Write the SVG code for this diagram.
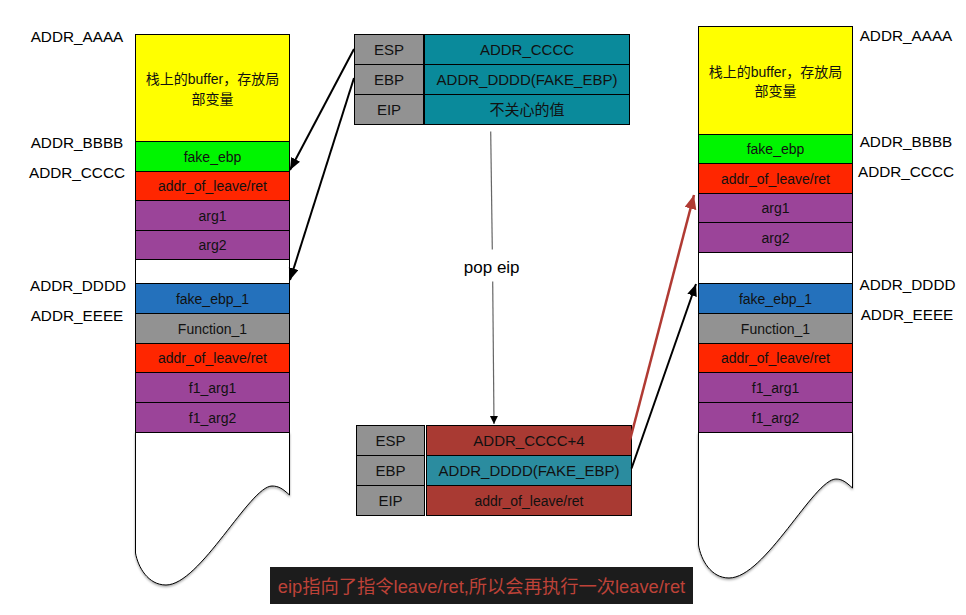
<svg xmlns="http://www.w3.org/2000/svg" width="966" height="615" viewBox="0 0 966 615">
  <style>
    .c { stroke:#000; stroke-width:1; }
    .t { font-family:"Liberation Sans","Noto Sans CJK SC",sans-serif; font-size:14px; text-anchor:middle; fill:#111; }
    .r { font-family:"Liberation Sans","Noto Sans CJK SC",sans-serif; font-size:15px; text-anchor:middle; fill:#111; }
    .lbl { font-family:"Liberation Sans",sans-serif; font-size:15.3px; text-anchor:middle; fill:#000; }
    .yel { fill:#FFFF00; } .grn { fill:#00F500; } .red { fill:#FF2600; } .pur { fill:#9B4499; }
    .wht { fill:#FFFFFF; } .blu { fill:#2471BC; } .gry { fill:#929292; }
    .teal { fill:#0A8A9B; } .teal2 { fill:#2B8C9F; } .brn { fill:#A93A33; }
    .ln { fill:none; stroke:#000; stroke-width:2; }
  </style>
  <defs>
    <marker id="ab" markerUnits="userSpaceOnUse" markerWidth="14" markerHeight="12" refX="12" refY="5" orient="auto">
      <path d="M0,0 L12,5 L0,10 Z" fill="#000"/>
    </marker>
    <marker id="ar" markerUnits="userSpaceOnUse" markerWidth="16" markerHeight="14" refX="14" refY="6" orient="auto">
      <path d="M0,0 L14,6 L0,12 Z" fill="#B03A33"/>
    </marker>
    <marker id="as" markerUnits="userSpaceOnUse" markerWidth="10" markerHeight="10" refX="8" refY="4" orient="auto">
      <path d="M0,0 L8,4 L0,8 Z" fill="#000"/>
    </marker>
    <filter id="sh" x="-10%" y="-10%" width="120%" height="120%">
      <feDropShadow dx="0" dy="1.5" stdDeviation="1" flood-color="#000" flood-opacity="0.35"/>
    </filter>
  </defs>
  <rect width="966" height="615" fill="#fff"/>

  <!-- Left stack -->
  <g id="left-stack">
    <path class="c wht" filter="url(#sh)" d="M135.5,432.5 H289.5 V495 C283,489 279,486 272,486 C250,486 200,585 166,585 C148,585 138,567 135.5,553 Z"/>
    <rect class="c yel" x="135.5" y="34.5" width="154" height="107"/>
    <text class="t" x="212.5" y="84">栈上的buffer，存放局</text>
    <text class="t" x="212.5" y="104">部变量</text>
    <rect class="c grn" x="135.5" y="141.5" width="154" height="30"/>
    <text class="t" x="212.5" y="161.5">fake_ebp</text>
    <rect class="c red" x="135.5" y="171.5" width="154" height="29"/>
    <text class="t" x="212.5" y="191">addr_of_leave/ret</text>
    <rect class="c pur" x="135.5" y="200.5" width="154" height="30"/>
    <text class="t" x="212.5" y="220.5">arg1</text>
    <rect class="c pur" x="135.5" y="230.5" width="154" height="29"/>
    <text class="t" x="212.5" y="250">arg2</text>
    <rect class="c wht" x="135.5" y="259.5" width="154" height="24"/>
    <rect class="c blu" x="135.5" y="283.5" width="154" height="30"/>
    <text class="t" x="212.5" y="303.5">fake_ebp_1</text>
    <rect class="c gry" x="135.5" y="313.5" width="154" height="30"/>
    <text class="t" x="212.5" y="333.5">Function_1</text>
    <rect class="c red" x="135.5" y="343.5" width="154" height="29"/>
    <text class="t" x="212.5" y="363">addr_of_leave/ret</text>
    <rect class="c pur" x="135.5" y="372.5" width="154" height="30"/>
    <text class="t" x="212.5" y="392.5">f1_arg1</text>
    <rect class="c pur" x="135.5" y="402.5" width="154" height="30"/>
    <text class="t" x="212.5" y="422.5">f1_arg2</text>
  </g>
  <g id="left-labels">
    <text class="lbl" x="77" y="41.5">ADDR_AAAA</text>
    <text class="lbl" x="77" y="148">ADDR_BBBB</text>
    <text class="lbl" x="77" y="177.7">ADDR_CCCC</text>
    <text class="lbl" x="78" y="291">ADDR_DDDD</text>
    <text class="lbl" x="77" y="320.5">ADDR_EEEE</text>
  </g>

  <!-- Right stack -->
  <g id="right-stack">
    <path class="c wht" filter="url(#sh)" d="M698.5,432.5 H852.5 V488 C846,482 842,479 836,479 C814,479 765,578 729,578 C711,578 701,560 698.5,545 Z"/>
    <rect class="c yel" x="698.5" y="26.5" width="154" height="108"/>
    <text class="t" x="775.5" y="77">栈上的buffer，存放局</text>
    <text class="t" x="775.5" y="96">部变量</text>
    <rect class="c grn" x="698.5" y="134.5" width="154" height="29"/>
    <text class="t" x="775.5" y="154">fake_ebp</text>
    <rect class="c red" x="698.5" y="163.5" width="154" height="30"/>
    <text class="t" x="775.5" y="183.5">addr_of_leave/ret</text>
    <rect class="c pur" x="698.5" y="193.5" width="154" height="29"/>
    <text class="t" x="775.5" y="213">arg1</text>
    <rect class="c pur" x="698.5" y="222.5" width="154" height="30"/>
    <text class="t" x="775.5" y="242.5">arg2</text>
    <rect class="c wht" x="698.5" y="252.5" width="154" height="31"/>
    <rect class="c blu" x="698.5" y="283.5" width="154" height="30"/>
    <text class="t" x="775.5" y="303.5">fake_ebp_1</text>
    <rect class="c gry" x="698.5" y="313.5" width="154" height="30"/>
    <text class="t" x="775.5" y="333.5">Function_1</text>
    <rect class="c red" x="698.5" y="343.5" width="154" height="29"/>
    <text class="t" x="775.5" y="363">addr_of_leave/ret</text>
    <rect class="c pur" x="698.5" y="372.5" width="154" height="30"/>
    <text class="t" x="775.5" y="392.5">f1_arg1</text>
    <rect class="c pur" x="698.5" y="402.5" width="154" height="30"/>
    <text class="t" x="775.5" y="422.5">f1_arg2</text>
  </g>
  <g id="right-labels">
    <text class="lbl" x="906" y="41">ADDR_AAAA</text>
    <text class="lbl" x="906" y="147">ADDR_BBBB</text>
    <text class="lbl" x="906" y="177">ADDR_CCCC</text>
    <text class="lbl" x="907.5" y="290">ADDR_DDDD</text>
    <text class="lbl" x="907" y="320">ADDR_EEEE</text>
  </g>

  <!-- Top registers -->
  <g id="regs-before">
    <rect class="c gry" x="354.5" y="34.5" width="69" height="30"/>
    <rect class="c gry" x="354.5" y="64.5" width="69" height="30"/>
    <rect class="c gry" x="354.5" y="94.5" width="69" height="30"/>
    <text class="r" x="389" y="55">ESP</text>
    <text class="r" x="389" y="85">EBP</text>
    <text class="r" x="389" y="115">EIP</text>
    <rect class="c teal" x="424.5" y="34.5" width="205" height="30"/>
    <rect class="c teal" x="424.5" y="64.5" width="205" height="30"/>
    <rect class="c teal" x="424.5" y="94.5" width="205" height="30"/>
    <text class="r" x="527" y="55">ADDR_CCCC</text>
    <text class="r" x="527" y="85">ADDR_DDDD(FAKE_EBP)</text>
    <text class="r" x="527" y="115">不关心的值</text>
  </g>

  <!-- Bottom registers -->
  <g id="regs-after">
    <rect class="c gry" x="356.5" y="425.5" width="68" height="30"/>
    <rect class="c gry" x="356.5" y="455.5" width="68" height="30"/>
    <rect class="c gry" x="356.5" y="485.5" width="68" height="30"/>
    <text class="r" x="390.5" y="446">ESP</text>
    <text class="r" x="390.5" y="476">EBP</text>
    <text class="r" x="390.5" y="506">EIP</text>
    <rect class="c brn" x="426.5" y="425.5" width="205" height="30"/>
    <rect class="c teal2" x="426.5" y="455.5" width="205" height="30"/>
    <rect class="c brn" x="426.5" y="485.5" width="205" height="30"/>
    <text class="r" x="529" y="446">ADDR_CCCC+4</text>
    <text class="r" x="529" y="476">ADDR_DDDD(FAKE_EBP)</text>
    <text class="t" x="529" y="505.5">addr_of_leave/ret</text>
  </g>

  <!-- Connectors -->
  <g id="connectors">
    <line class="ln" x1="354" y1="49" x2="290" y2="170" marker-end="url(#ab)"/>
    <line class="ln" x1="354" y1="78" x2="290" y2="280" marker-end="url(#ab)"/>
    <line x1="490.7" y1="131.5" x2="492.3" y2="249.5" stroke="#666" stroke-width="1.2"/>
    <line x1="492.7" y1="281.5" x2="494" y2="424" stroke="#666" stroke-width="1.2" marker-end="url(#as)"/>
    <line x1="630" y1="440" x2="694" y2="195" stroke="#B03A33" stroke-width="2.5" marker-end="url(#ar)"/>
    <line class="ln" x1="631.5" y1="468.5" x2="696" y2="284" marker-end="url(#ab)"/>
    <text x="491.7" y="273" font-family="Liberation Sans, sans-serif" font-size="17px" text-anchor="middle" fill="#000">pop eip</text>
  </g>

  <!-- Caption -->
  <g id="caption">
    <rect x="270" y="567" width="423" height="37" fill="#1C1C1C"/>
    <text x="481.5" y="593" font-family="'Liberation Sans', 'Noto Sans CJK SC', sans-serif" font-size="18.3px" text-anchor="middle" fill="#BE4238">eip指向了指令leave/ret,所以会再执行一次leave/ret</text>
  </g>
</svg>
